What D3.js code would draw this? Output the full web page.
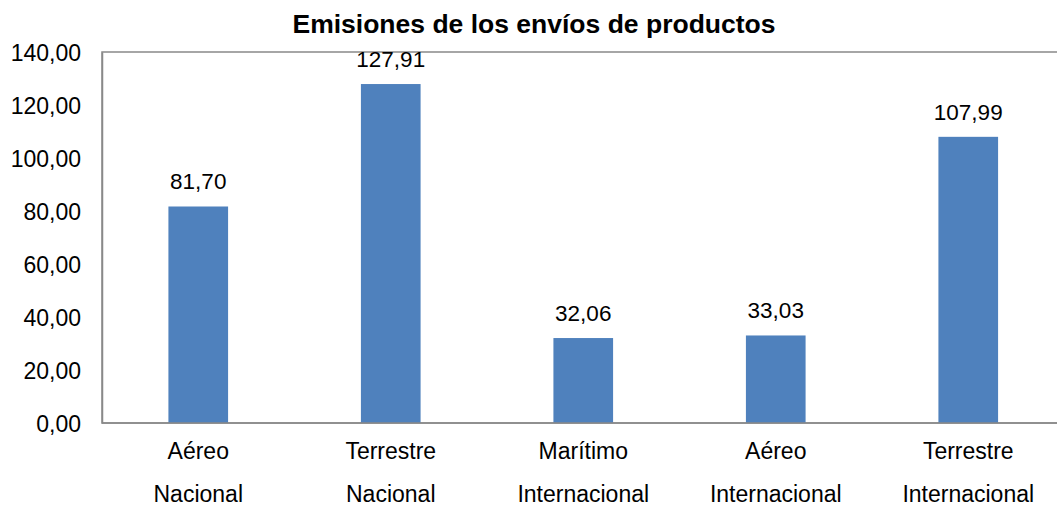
<!DOCTYPE html>
<html>
<head>
<meta charset="utf-8">
<script src="https://cdn.jsdelivr.net/npm/d3@7"></script>
<style>
    body { margin: 0; background: #fff; }
    svg text { font-family: "Liberation Sans", Arial, sans-serif; fill: #000; }
</style>
</head>
<body>
<svg id="chart"></svg>
<script>
// Data
let categories = [
    ["Aéreo", "Nacional"],
    ["Terrestre", "Nacional"],
    ["Marítimo", "Internacional"],
    ["Aéreo", "Internacional"],
    ["Terrestre", "Internacional"]
];
let emissions = [81.70, 127.91, 32.06, 33.03, 107.99];
let yTicks = [0, 20, 40, 60, 80, 100, 120, 140];
let title = "Emisiones de los envíos de productos";

let config = {svg: {width: 1057, height: 506}, plot: {}};
config.plot.left = 102;
config.plot.right = 1064.5;   // plot runs past the picture edge
config.plot.top = 52;
config.plot.bottom = 423;

let svg = d3.select("#chart")
    .attr("width", config.svg.width)
    .attr("height", config.svg.height);

let keys = categories.map(c => c.join(" "));

let scales = {};
scales.x = d3.scaleBand()
    .domain(keys)
    .range([config.plot.left, config.plot.right])
    .padding(0);
scales.y = d3.scaleLinear()
    .domain([0, 140])
    .range([config.plot.bottom, config.plot.top]);

let barWidth = scales.x.bandwidth() * 0.31;
let axisColor = "#898989";

// plot border (top line shows, right side is cut off)
svg.append("rect")
    .attr("x", config.plot.left)
    .attr("y", config.plot.top)
    .attr("width", config.plot.right - config.plot.left)
    .attr("height", config.plot.bottom - config.plot.top)
    .attr("fill", "none")
    .attr("stroke", axisColor)
    .attr("stroke-width", 1.5);

// y axis labels
let yAxis = d3.axisLeft(scales.y)
    .tickValues(yTicks)
    .tickSize(0)
    .tickPadding(21)
    .tickFormat(d => d3.format(".2f")(d).replace(".", ","));
let yg = svg.append("g")
    .attr("transform", "translate(" + config.plot.left + ",0)")
    .call(yAxis);
yg.select(".domain").attr("stroke", axisColor).attr("stroke-width", 1.5);
yg.selectAll("text")
    .attr("font-size", 23)
    .attr("dy", "0.38em")
    .style("font-family", "'Liberation Sans', Arial, sans-serif");

// bars
let data = keys.map((k, i) => ({key: k, value: emissions[i], label: categories[i]}));
svg.append("g").selectAll("rect")
    .data(data)
    .enter()
    .append("rect")
    .attr("x", d => scales.x(d.key) + scales.x.bandwidth() / 2 - barWidth / 2)
    .attr("y", d => scales.y(d.value))
    .attr("width", barWidth)
    .attr("height", d => scales.y(0) - scales.y(d.value))
    .attr("fill", "#4F81BD");

// x axis line on top of bars
svg.append("line")
    .attr("x1", config.plot.left)
    .attr("x2", config.plot.right)
    .attr("y1", config.plot.bottom)
    .attr("y2", config.plot.bottom)
    .attr("stroke", axisColor)
    .attr("stroke-width", 1.5);

// data labels
svg.append("g").selectAll("text")
    .data(data)
    .enter()
    .append("text")
    .attr("x", d => scales.x(d.key) + scales.x.bandwidth() / 2)
    .attr("y", d => scales.y(d.value) - 17)
    .attr("text-anchor", "middle")
    .attr("font-size", 22.5)
    .text(d => d3.format(".2f")(d.value).replace(".", ","));

// category labels, two lines each
let catLabels = svg.append("g").selectAll("text")
    .data(data)
    .enter()
    .append("text")
    .attr("text-anchor", "middle")
    .attr("font-size", 23);
catLabels.append("tspan")
    .attr("x", d => scales.x(d.key) + scales.x.bandwidth() / 2)
    .attr("y", 459)
    .text(d => d.label[0]);
catLabels.append("tspan")
    .attr("x", d => scales.x(d.key) + scales.x.bandwidth() / 2)
    .attr("y", 502)
    .text(d => d.label[1]);

// title
svg.append("text")
    .attr("x", 534)
    .attr("y", 33)
    .attr("text-anchor", "middle")
    .attr("font-size", 26.5)
    .attr("font-weight", "bold")
    .text(title);
</script>
</body>
</html>
